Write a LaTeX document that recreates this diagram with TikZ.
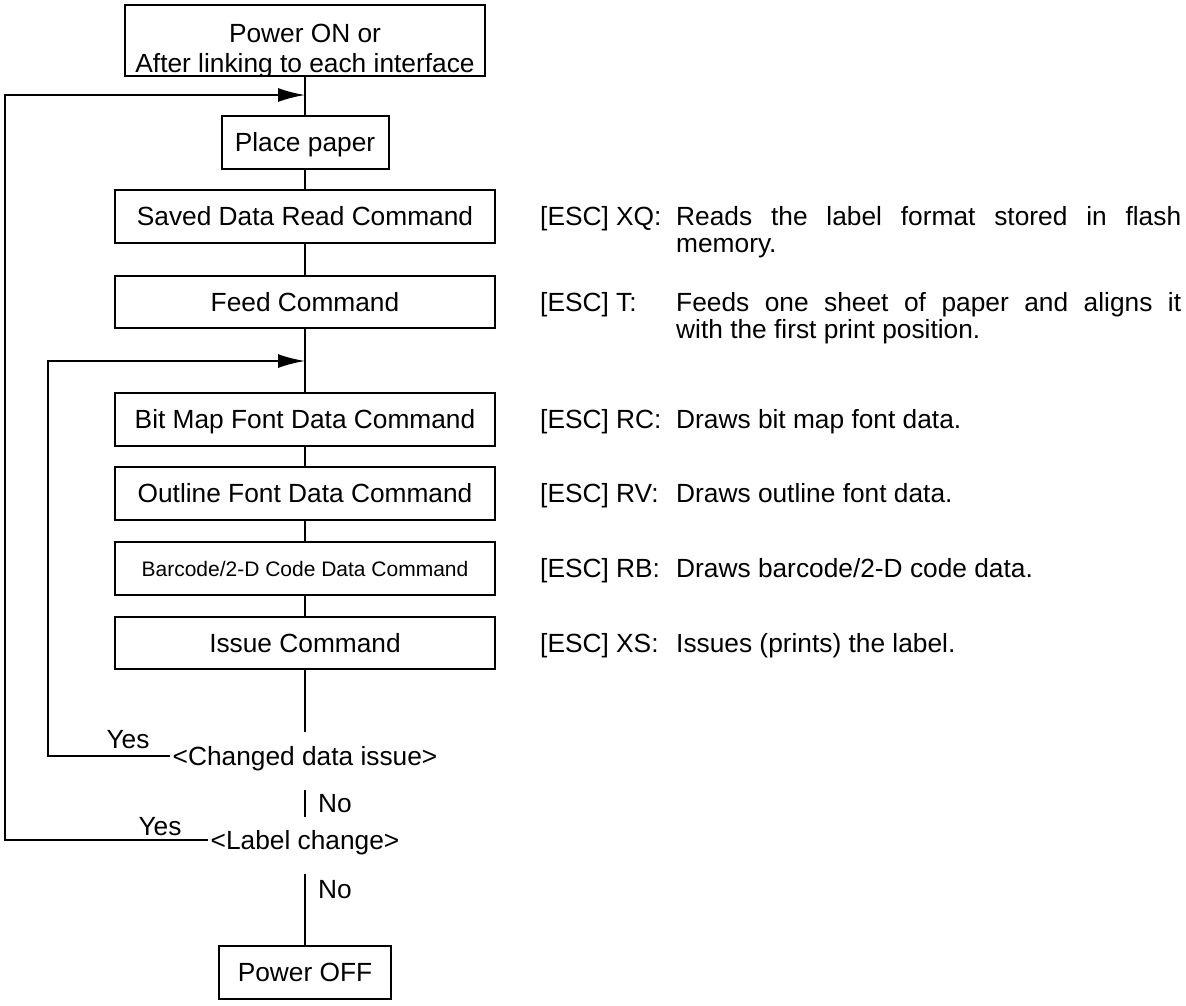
\documentclass[tikz,border=0pt]{standalone}
\usepackage{fontspec}
\setmainfont{Liberation Sans}
\usetikzlibrary{arrows.meta,calc}
\begin{document}
\begin{tikzpicture}[x=1pt,y=-1pt,
  every node/.style={font=\fontsize{26.3}{28}\selectfont, text height=23pt, text depth=5pt},
  box/.style={draw, line width=2pt, inner sep=0pt, minimum width=380pt, minimum height=53pt},
  ln/.style={line width=2pt},
  arr/.style={line width=2pt, -{Latex[length=27pt,width=14pt]}},
  lbl/.style={anchor=west, inner sep=0pt},
  dec/.style={inner xsep=2pt, text height=23pt, text depth=5pt},
]
\useasboundingbox (0,0) rectangle (1186,1005);

% top box with clipped text
\begin{scope}
  \clip (125,5) rectangle (485,76);
  \node[anchor=base, inner sep=0pt] (t1) at (305,42) {Power ON or};
  \node[anchor=base, inner sep=0pt] (t2) at (305,72) {After linking to each interface};
\end{scope}
\node[box, minimum width=360pt, minimum height=71pt] (top) at (305,40.5) {};

\node[box, minimum width=167pt] (place) at (305,142.5) {Place paper};
\node[box] (saved) at (305,216.5) {Saved Data Read Command};
\node[box, minimum height=52pt] (feed) at (305,302) {Feed Command};
\node[box] (bitmap) at (305,419.5) {Bit Map Font Data Command};
\node[box] (outline) at (305,493.5) {Outline Font Data Command};
\node[box, font=\fontsize{21}{24}\selectfont, text height=20pt, text depth=4pt] (barcode) at (305,568.5) {Barcode/2-D Code Data Command};
\node[box, minimum height=52pt] (issue) at (305,643) {Issue Command};
\node[box, minimum width=172pt] (off) at (305,972.5) {Power OFF};

\node[dec, inner ysep=10pt] (dec1) at (305,756) {<Changed data issue>};
\node[dec, inner ysep=20pt] (dec2) at (305,840) {<Label change>};

\node[inner sep=0pt] (yes1) at (128,739) {Yes};
\node[inner sep=0pt] (yes2) at (160,826) {Yes};
\node[lbl] (no1) at (318,803) {No};
\node[lbl] (no2) at (318,889) {No};

\coordinate (m1) at (305,95);
\coordinate (m2) at (305,361);
\coordinate (L1) at (5,0);
\coordinate (L2) at (48,0);
\coordinate (na) at (305,790);
\coordinate (nb) at (305,817);

\draw[ln] (top.south) -- (place.north);
\draw[ln] (place.south) -- (saved.north);
\draw[ln] (saved.south) -- (feed.north);
\draw[ln] (feed.south) -- (bitmap.north);
\draw[ln] (bitmap.south) -- (outline.north);
\draw[ln] (outline.south) -- (barcode.north);
\draw[ln] (barcode.south) -- (issue.north);
\draw[ln] (issue.south) -- (dec1.north);
\draw[ln] (na) -- (nb);
\draw[ln] (dec2.south) -- (off.north);
\draw[arr] (dec2.west) -- (dec2.west -| L1) |- (m1);
\draw[arr] (dec1.west) -- (dec1.west -| L2) |- (m2);

% right-hand descriptions
\node[lbl] (kxq) at (540,216.5) {[ESC] XQ:};
\node[lbl] (dxq1) at (676,216.5) {\makebox[505pt][s]{Reads the label format stored in flash}};
\node[lbl] (dxq2) at (676,243.5) {memory.};
\node[lbl] (kt) at (540,302) {[ESC] T:};
\node[lbl] (dt1) at (676,302) {\makebox[505pt][s]{Feeds one sheet of paper and aligns it}};
\node[lbl] (dt2) at (676,329) {with the first print position.};
\node[lbl] (krc) at (540,419.5) {[ESC] RC:};
\node[lbl] (drc) at (676,419.5) {Draws bit map font data.};
\node[lbl] (krv) at (540,493.5) {[ESC] RV:};
\node[lbl] (drv) at (676,493.5) {Draws outline font data.};
\node[lbl] (krb) at (540,568.5) {[ESC] RB:};
\node[lbl] (drb) at (676,568.5) {Draws barcode/2-D code data.};
\node[lbl] (kxs) at (540,643) {[ESC] XS:};
\node[lbl] (dxs) at (676,643) {Issues (prints) the label.};
\end{tikzpicture}
\end{document}
